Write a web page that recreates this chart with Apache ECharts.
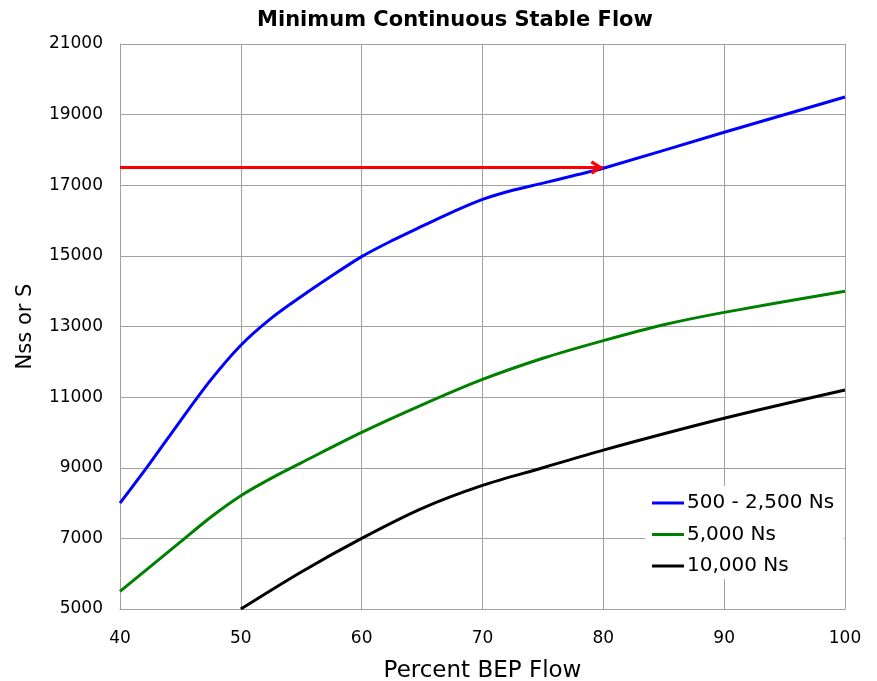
<!DOCTYPE html>
<html>
<head>
<meta charset="utf-8">
<title>Minimum Continuous Stable Flow</title>
<script src="https://cdn.jsdelivr.net/npm/echarts@6/dist/echarts.min.js"></script>
<style>
    html, body { margin: 0; padding: 0; background: #fff; }
    #main { width: 877px; height: 681px; }
</style>
</head>
<body>
<div id="main"></div>
<script>
// values
var seriesNames = ['500 - 2,500 Ns', '5,000 Ns', '10,000 Ns'];
var seriesColors = ['#0000ff', '#008000', '#000000'];

var flowLow = [40, 42.5, 45, 47.5, 50, 52.5, 55, 57.5, 60, 62.5, 65, 67.5, 70, 72.5, 75, 77.5, 80, 90, 100];
var nssLow = [8000, 9140, 10330, 11480, 12470, 13230, 13850, 14430, 14980, 15430, 15840, 16240, 16600, 16860, 17060, 17270, 17480, 18500, 19500];

var flowMid = [40, 45, 47.5, 50, 52.5, 55, 60, 65, 70, 75, 80, 85, 90, 100];
var nssMid = [5500, 6900, 7600, 8210, 8700, 9140, 10000, 10780, 11500, 12100, 12600, 13050, 13400, 14000];

var flowHigh = [50, 55, 60, 65, 70, 75, 80, 90, 100];
var nssHigh = [5000, 6050, 7000, 7850, 8500, 9000, 9500, 10400, 11200];

// red arrow marking the 17500 reading at 80 %
var arrowFlow = [40, 80];
var arrowNss = 17500;

function pairs(xs, ys) {
    let out = [];
    for (let i = 0; i < xs.length; i++) {
        out.push([xs[i], ys[i]]);
    }
    return out;
}

var myChart = echarts.init(document.getElementById('main'));
var font = 'DejaVu Sans';

// open chevron, tip at the centre of its box so it ends right on the point
var chevron = 'path://M7,-12 L7,-12 M0,10 L7,0 L14,10 L11.5,12 L7,5.5 L2.5,12 Z';

var option = {
    animation: false,
    backgroundColor: '#fff',
    title: {
        text: 'Minimum Continuous Stable Flow',
        left: 450,
        textAlign: 'center',
        top: 5,
        textStyle: {
            fontFamily: font,
            fontWeight: 'bold',
            fontSize: 21,
            color: '#000'
        }
    },
    legend: {
        orient: 'vertical',
        left: 645,
        top: 486,
        backgroundColor: '#fff',
        padding: [7, 10, 3, 7],
        icon: 'rect',
        itemWidth: 32,
        itemHeight: 3,
        itemGap: 11.5,
        data: seriesNames,
        textStyle: {
            fontFamily: font,
            fontSize: 20,
            lineHeight: 20,
            color: '#000',
            padding: [0, 0, 0, -2]
        }
    },
    grid: {
        left: 120,
        right: 32,
        top: 44,
        bottom: 72,
        outerBoundsMode: 'none'
    },
    xAxis: {
        type: 'value',
        min: 40,
        max: 100,
        interval: 10,
        name: 'Percent BEP Flow',
        nameLocation: 'middle',
        nameGap: 51,
        nameTextStyle: {
            fontFamily: font,
            fontSize: 23,
            color: '#000'
        },
        axisLine: { lineStyle: { color: '#a0a0a0', width: 1 } },
        axisTick: { show: false },
        axisLabel: {
            margin: 21,
            fontFamily: font,
            fontSize: 17,
            color: '#000'
        },
        splitLine: { show: true, lineStyle: { color: '#a0a0a0', width: 1 } }
    },
    yAxis: {
        type: 'value',
        min: 5000,
        max: 21000,
        interval: 1000,
        name: 'Nss or S',
        nameLocation: 'middle',
        nameGap: 84,
        nameTextStyle: {
            fontFamily: font,
            fontSize: 21,
            color: '#000'
        },
        axisLine: { show: true, lineStyle: { color: '#a0a0a0', width: 1 } },
        axisTick: { show: false },
        axisLabel: {
            margin: 17,
            fontFamily: font,
            fontSize: 17,
            color: '#000',
            formatter: function (v) {
                return (v - 5000) % 2000 === 0 ? String(v) : '';
            }
        },
        splitLine: {
            show: true,
            lineStyle: { color: ['#a0a0a0', 'rgba(0,0,0,0)'], width: 1 }
        }
    },
    series: [{
        name: seriesNames[0],
        type: 'line',
        smooth: 0.3,
        symbol: 'none',
        lineStyle: { color: seriesColors[0], width: 3 },
        itemStyle: { color: seriesColors[0] },
        data: pairs(flowLow, nssLow),
        z: 3,
        markLine: {
            silent: true,
            symbol: ['none', chevron],
            symbolSize: [14, 26],
            label: { show: false },
            lineStyle: { color: '#ff0000', width: 3, type: 'solid' },
            data: [[
                { coord: [arrowFlow[0], arrowNss] },
                { coord: [arrowFlow[1], arrowNss] }
            ]]
        }
    }, {
        name: seriesNames[1],
        type: 'line',
        smooth: 0.3,
        symbol: 'none',
        lineStyle: { color: seriesColors[1], width: 3 },
        itemStyle: { color: seriesColors[1] },
        data: pairs(flowMid, nssMid)
    }, {
        name: seriesNames[2],
        type: 'line',
        smooth: 0.3,
        symbol: 'none',
        lineStyle: { color: seriesColors[2], width: 3 },
        itemStyle: { color: seriesColors[2] },
        data: pairs(flowHigh, nssHigh)
    }]
};

myChart.setOption(option);
</script>
</body>
</html>
